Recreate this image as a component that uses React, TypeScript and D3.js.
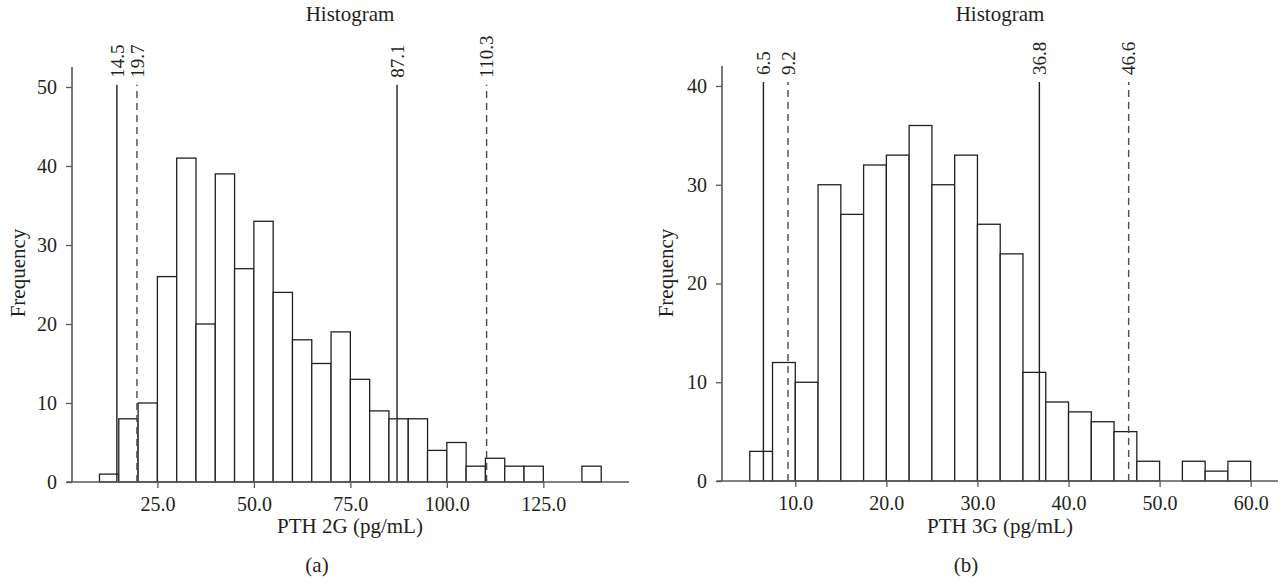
import React, { useRef, useEffect } from 'react';
import * as d3 from 'd3';

// (a) PTH 2G, bin width 5 pg/mL -- start of each bin and its count
const binStartsA = [10, 15, 20, 25, 30, 35, 40, 45, 50, 55, 60, 65, 70, 75, 80, 85, 90, 95, 100, 105, 110, 115, 120, 125, 130, 135];
const countsA = [1, 8, 10, 26, 41, 20, 39, 27, 33, 24, 18, 15, 19, 13, 9, 8, 8, 4, 5, 2, 3, 2, 2, 0, 0, 2];
const binWidthA = 5;
const xTicksA = [25, 50, 75, 100, 125];
const yTicksA = [0, 10, 20, 30, 40, 50];
const cutoffsA = [14.5, 19.7, 87.1, 110.3];
const dashedA = [false, true, false, true];

// (b) PTH 3G, bin width 2.5 pg/mL
const binStartsB = [5, 7.5, 10, 12.5, 15, 17.5, 20, 22.5, 25, 27.5, 30, 32.5, 35, 37.5, 40, 42.5, 45, 47.5, 50, 52.5, 55, 57.5];
const countsB = [3, 12, 10, 30, 27, 32, 33, 36, 30, 33, 26, 23, 11, 8, 7, 6, 5, 2, 0, 2, 1, 2];
const binWidthB = 2.5;
const xTicksB = [10, 20, 30, 40, 50, 60];
const yTicksB = [0, 10, 20, 30, 40];
const cutoffsB = [6.5, 9.2, 36.8, 46.6];
const dashedB = [false, true, false, true];

const FONT = '"Liberation Serif", "Times New Roman", serif';
const INK = '#231f20';
const AXIS = '#58595b';

function drawPanel(svg, p) {
  const x = d3.scaleLinear().domain(p.xDomain).range([p.left, p.right]);
  const y = d3.scaleLinear().domain([0, p.yTop]).range([p.bottom, p.top]);
  const g = svg.append('g');

  const bins = p.starts
    .map((s, i) => ({ x0: s, x1: s + p.binWidth, n: p.counts[i] }))
    .filter(d => d.n > 0);

  g.selectAll('.bar')
    .data(bins)
    .enter()
    .append('rect')
    .attr('class', 'bar')
    .attr('x', d => x(d.x0))
    .attr('y', d => y(d.n))
    .attr('width', d => x(d.x1) - x(d.x0))
    .attr('height', d => y(0) - y(d.n))
    .attr('fill', '#fff')
    .attr('stroke', INK)
    .attr('stroke-width', 1.3);

  // reference lines with rotated labels
  p.cutoffs.forEach((c, i) => {
    g.append('line')
      .attr('x1', x(c)).attr('x2', x(c))
      .attr('y1', y(0)).attr('y2', y(p.lineTop))
      .attr('stroke', p.dashed[i] ? '#4a4a4a' : INK)
      .attr('stroke-width', 1.4)
      .attr('stroke-dasharray', p.dashed[i] ? '7,5' : null);
    g.append('text')
      .attr('transform', `translate(${x(c)},${y(p.lineTop) - 7}) rotate(-90)`)
      .attr('dy', '0.35em')
      .attr('text-anchor', 'start')
      .attr('font-family', FONT)
      .attr('font-size', 19)
      .attr('fill', INK)
      .text(d3.format('.1f')(c));
  });

  // axes
  const gx = g.append('g')
    .attr('transform', `translate(0,${y(0)})`)
    .call(d3.axisBottom(x).tickValues(p.xTicks).tickFormat(d3.format('.1f')).tickSize(6).tickPadding(9));
  gx.select('.domain').remove();

  const gy = g.append('g')
    .attr('transform', `translate(${p.yAxisX},0)`)
    .call(d3.axisLeft(y).tickValues(p.yTicks).tickFormat(d3.format('d')).tickSize(6).tickPadding(9));
  gy.select('.domain').remove();

  [gx, gy].forEach(a => {
    a.selectAll('line').attr('stroke', AXIS).attr('stroke-width', 1.3);
    a.selectAll('text').attr('font-family', FONT).attr('font-size', 20).attr('fill', INK);
  });

  g.append('line')
    .attr('x1', p.axisStart).attr('x2', p.right)
    .attr('y1', y(0)).attr('y2', y(0))
    .attr('stroke', AXIS).attr('stroke-width', 1.6);
  g.append('line')
    .attr('x1', p.yAxisX).attr('x2', p.yAxisX)
    .attr('y1', y(0)).attr('y2', p.axisTop)
    .attr('stroke', AXIS).attr('stroke-width', 1.6);

  const label = (tx, ty, str, rot) => g.append('text')
    .attr('transform', `translate(${tx},${ty})${rot ? ' rotate(-90)' : ''}`)
    .attr('text-anchor', 'middle')
    .attr('font-family', FONT)
    .attr('font-size', 21)
    .attr('fill', INK)
    .text(str);

  label(p.center, 21, 'Histogram');
  label(p.center, 533, p.xLabel);
  label(p.subX, 572, p.sub);
  label(p.yLabelX, 273, 'Frequency', true);
}

function App() {
  const ref = useRef(null);

  useEffect(() => {
    const svg = d3.select(ref.current);
    svg.selectAll('*').remove();

    drawPanel(svg, {
      starts: binStartsA, counts: countsA, binWidth: binWidthA,
      xTicks: xTicksA, yTicks: yTicksA, cutoffs: cutoffsA, dashed: dashedA,
      xDomain: [1.5, 147.2], left: 66.7, right: 629, axisStart: 66.7,
      yTop: 50, bottom: 482, top: 87, axisTop: 67, yAxisX: 72, lineTop: 50.3,
      center: 350, subX: 317, yLabelX: 25,
      xLabel: 'PTH 2G (pg/mL)', sub: '(a)',
    });

    drawPanel(svg, {
      starts: binStartsB, counts: countsB, binWidth: binWidthB,
      xTicks: xTicksB, yTicks: yTicksB, cutoffs: cutoffsB, dashed: dashedB,
      xDomain: [1.37, 63.0], left: 716.7, right: 1278, axisStart: 716.7,
      yTop: 40, bottom: 481, top: 86, axisTop: 66, yAxisX: 722, lineTop: 40.4,
      center: 1000, subX: 966, yLabelX: 673,
      xLabel: 'PTH 3G (pg/mL)', sub: '(b)',
    });
  }, []);

  return (
    <svg
      ref={ref}
      width={1283}
      height={586}
      style={{ position: 'absolute', left: 0, top: 0, background: '#fff' }}
    />
  );
}

export default App;
